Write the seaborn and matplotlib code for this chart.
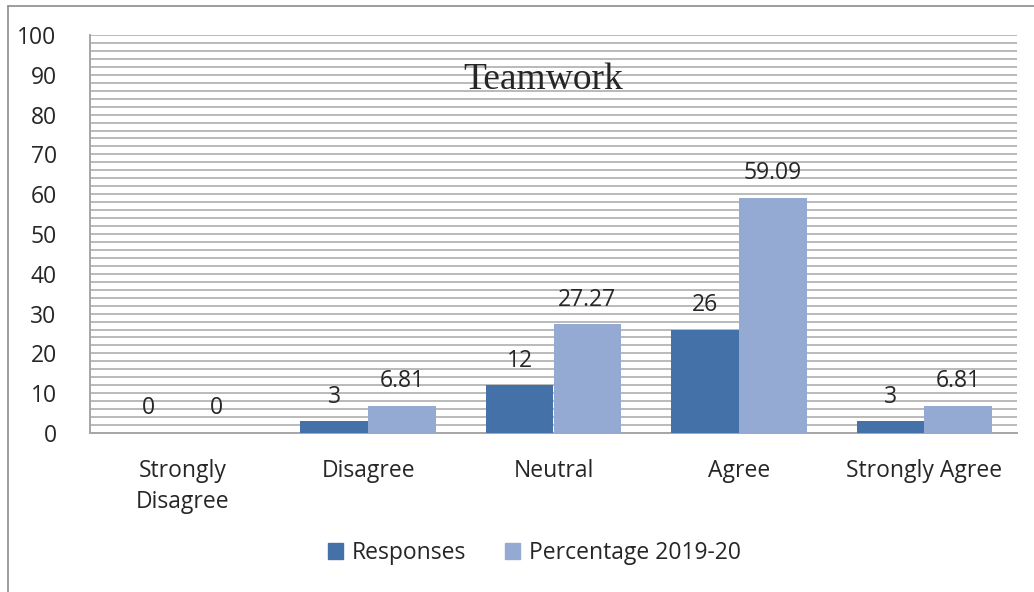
import numpy as np
import pandas as pd
import matplotlib.pyplot as plt
import matplotlib.patches as mpatches
import seaborn as sns

categories = ['Strongly\nDisagree', 'Disagree', 'Neutral', 'Agree', 'Strongly Agree']
responses = [0, 3, 12, 26, 3]
percentage = [0, 6.81, 27.27, 59.09, 6.81]
series_names = ['Responses', 'Percentage 2019-20']
value_labels = [['0', '3', '12', '26', '3'], ['0', '6.81', '27.27', '59.09', '6.81']]
colors = ['#4472A8', '#95AAD3']

df = pd.DataFrame({
    'category': categories * 2,
    'value': responses + percentage,
    'series': [series_names[0]] * 5 + [series_names[1]] * 5,
})

sns.set_style('white')
plt.rcParams['font.family'] = ['Open Sans', 'DejaVu Sans']

fig = plt.figure(figsize=(10.34, 5.92), dpi=100)
ax = fig.add_axes([90 / 1034, 1 - 433 / 592, (1017 - 90) / 1034, (433 - 35) / 592])

sns.barplot(data=df, x='category', y='value', hue='series', ax=ax,
            palette=colors, width=0.73, gap=0, saturation=1,
            legend=False, linewidth=0, edgecolor='none', zorder=3)

ax.set_ylim(0, 100)
ax.set_xlim(-0.5, 4.5)
ax.set_yticks(np.arange(0, 101, 10))
ax.set_yticks(np.arange(0, 101, 2), minor=True)
ax.grid(axis='y', which='both', color='#B4B4B4', linewidth=1.3, zorder=0)
ax.set_axisbelow(True)
ax.tick_params(axis='y', which='both', length=0, labelsize=16.5, pad=24)
ax.tick_params(axis='x', length=0, labelsize=16.5, pad=19)
for lbl in ax.get_xticklabels():
    lbl.set_linespacing(1.35)
ax.set_xlabel('')
ax.set_ylabel('')
for s in ['top', 'right']:
    ax.spines[s].set_visible(False)
for s in ['left', 'bottom']:
    ax.spines[s].set_color('#A6A6A6')
    ax.spines[s].set_linewidth(1.4)

for cont, labels in zip(ax.containers, value_labels):
    ax.bar_label(cont, labels=labels, padding=9, fontsize=16.5)

ax.text(0.489, 0.887, 'Teamwork', transform=ax.transAxes, ha='center', va='center',
        fontsize=27, family='Liberation Serif')

handles = [mpatches.Patch(color=c, label=n) for c, n in zip(colors, series_names)]
fig.legend(handles=handles, loc='center', bbox_to_anchor=(0.517, 1 - 553 / 592), ncol=2,
           frameon=False, fontsize=16.5, handlelength=0.65, handleheight=0.65,
           columnspacing=1.7, handletextpad=0.4)

# outer chart border
fig.add_artist(plt.Line2D([8 / 1034, 8 / 1034], [0, 1 - 6 / 592], color='#8C8C8C', linewidth=1.2))
fig.add_artist(plt.Line2D([8 / 1034, 1], [1 - 6 / 592, 1 - 6 / 592], color='#8C8C8C', linewidth=1.2))

fig.savefig('out.png', dpi=100)
